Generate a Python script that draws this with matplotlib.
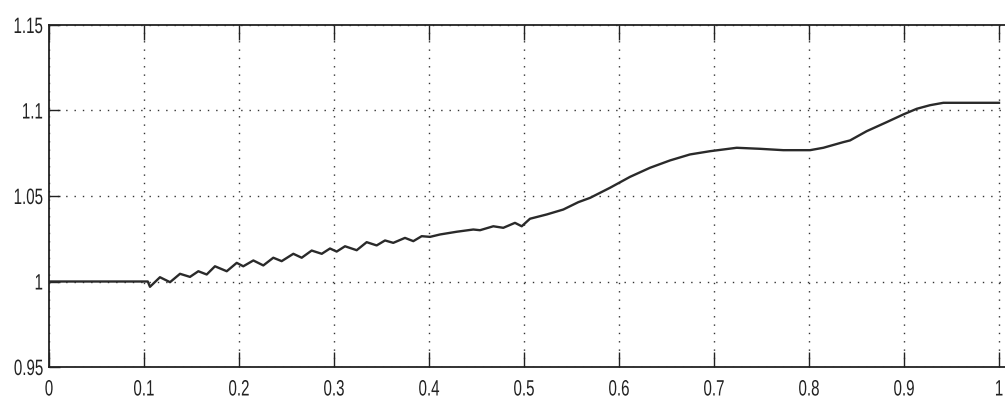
import matplotlib
matplotlib.use("Agg")
import matplotlib.pyplot as plt
from matplotlib import font_manager
from matplotlib.patheffects import AbstractPathEffect
from matplotlib.transforms import Affine2D

# ---- data ----
t = [0.0, 0.104, 0.1063, 0.1168, 0.1274, 0.1379, 0.1484, 0.1572, 0.1660, 0.1747,
     0.1871, 0.1976, 0.2045, 0.2151, 0.2256, 0.2361, 0.2449, 0.2572, 0.2660, 0.2765,
     0.2871, 0.2958, 0.3028, 0.3116, 0.3239, 0.3344, 0.3449, 0.3537, 0.3624, 0.3747,
     0.3835, 0.3923, 0.4011, 0.4116, 0.4292, 0.4466, 0.4537, 0.4677, 0.4782, 0.4905,
     0.4976, 0.5063, 0.5239, 0.5414, 0.5572, 0.5695, 0.5905, 0.6116, 0.6326, 0.6537,
     0.6747, 0.6958, 0.7239, 0.7484, 0.7729, 0.8011, 0.8151, 0.8361, 0.8432, 0.8607,
     0.8818, 0.8993, 0.9134, 0.9274, 0.9414, 1.0]
v = [1.0, 1.0, 0.9969, 1.0025, 0.9996, 1.0045, 1.0027, 1.0060, 1.0041, 1.0089,
     1.0060, 1.0109, 1.0089, 1.0123, 1.0094, 1.0139, 1.0119, 1.0162, 1.0139, 1.0181,
     1.0162, 1.0193, 1.0175, 1.0206, 1.0183, 1.0230, 1.0211, 1.0240, 1.0226, 1.0255,
     1.0236, 1.0265, 1.0261, 1.0275, 1.0291, 1.0304, 1.0300, 1.0323, 1.0314, 1.0343,
     1.0323, 1.0367, 1.0392, 1.0421, 1.0464, 1.0489, 1.0548, 1.0612, 1.0665, 1.0708,
     1.0743, 1.0762, 1.0782, 1.0776, 1.0768, 1.0768, 1.0782, 1.0815, 1.0825, 1.0879,
     1.0932, 1.0977, 1.1010, 1.1031, 1.1045, 1.1045]
xticks = [0, 0.1, 0.2, 0.3, 0.4, 0.5, 0.6, 0.7, 0.8, 0.9, 1.0]
xticklabels = ["0", "0.1", "0.2", "0.3", "0.4", "0.5", "0.6", "0.7", "0.8", "0.9", "1"]
yticks = [0.95, 1.0, 1.05, 1.1, 1.15]
yticklabels = ["0.95", "1", "1.05", "1.1", "1.15"]

names = {f.name for f in font_manager.fontManager.ttflist}
fam = "Liberation Sans" if "Liberation Sans" in names else "DejaVu Sans"
plt.rcParams["font.family"] = [fam, "DejaVu Sans"]


class Squeeze(AbstractPathEffect):
    """Draw text glyphs horizontally condensed (old MATLAB narrow look)."""

    def __init__(self, sx, anchor="center"):
        super().__init__()
        self.sx = sx
        self.anchor = anchor

    def draw_path(self, renderer, gc, tpath, affine, rgbFace=None):
        ext = tpath.get_extents()
        cx = ext.x1 if self.anchor == "right" else 0.5 * (ext.x0 + ext.x1)
        tr = Affine2D().translate(-cx, 0).scale(self.sx, 1).translate(cx, 0) + affine
        renderer.draw_path(gc, tpath, tr, rgbFace)


W, H = 1005, 403
fig = plt.figure(figsize=(W / 100, H / 100), dpi=100)
L, R, T, B = 49, 1005, 25, 367
ax = fig.add_axes([L / W, (H - B) / H, (R - L) / W, (B - T) / H])

ax.plot(t, v, color="#2a2a2a", lw=1.7)

ax.set_xlim(0, (R - L) / 950)
ax.set_ylim(0.95, 1.15)
ax.set_xticks(xticks)
ax.set_xticklabels(xticklabels)
ax.set_yticks(yticks)
ax.set_yticklabels(yticklabels)
ax.grid(True, color="#333333", linestyle=(0, (1, 5)), linewidth=1.0)
ax.tick_params(direction="in", width=1, labelsize=16, colors="#222222",
               top=True, right=False)
ax.tick_params(axis="x", length=11, pad=9)
ax.tick_params(axis="y", length=8, pad=4)
for s in ["left", "top", "bottom"]:
    ax.spines[s].set_linewidth(1.3)
    ax.spines[s].set_color("#222222")
ax.spines["right"].set_visible(False)

for lbl in ax.get_xticklabels():
    lbl.set_path_effects([Squeeze(0.68, "center")])
for lbl in ax.get_yticklabels():
    lbl.set_path_effects([Squeeze(0.68, "right")])

fig.savefig("out.png", dpi=100)
